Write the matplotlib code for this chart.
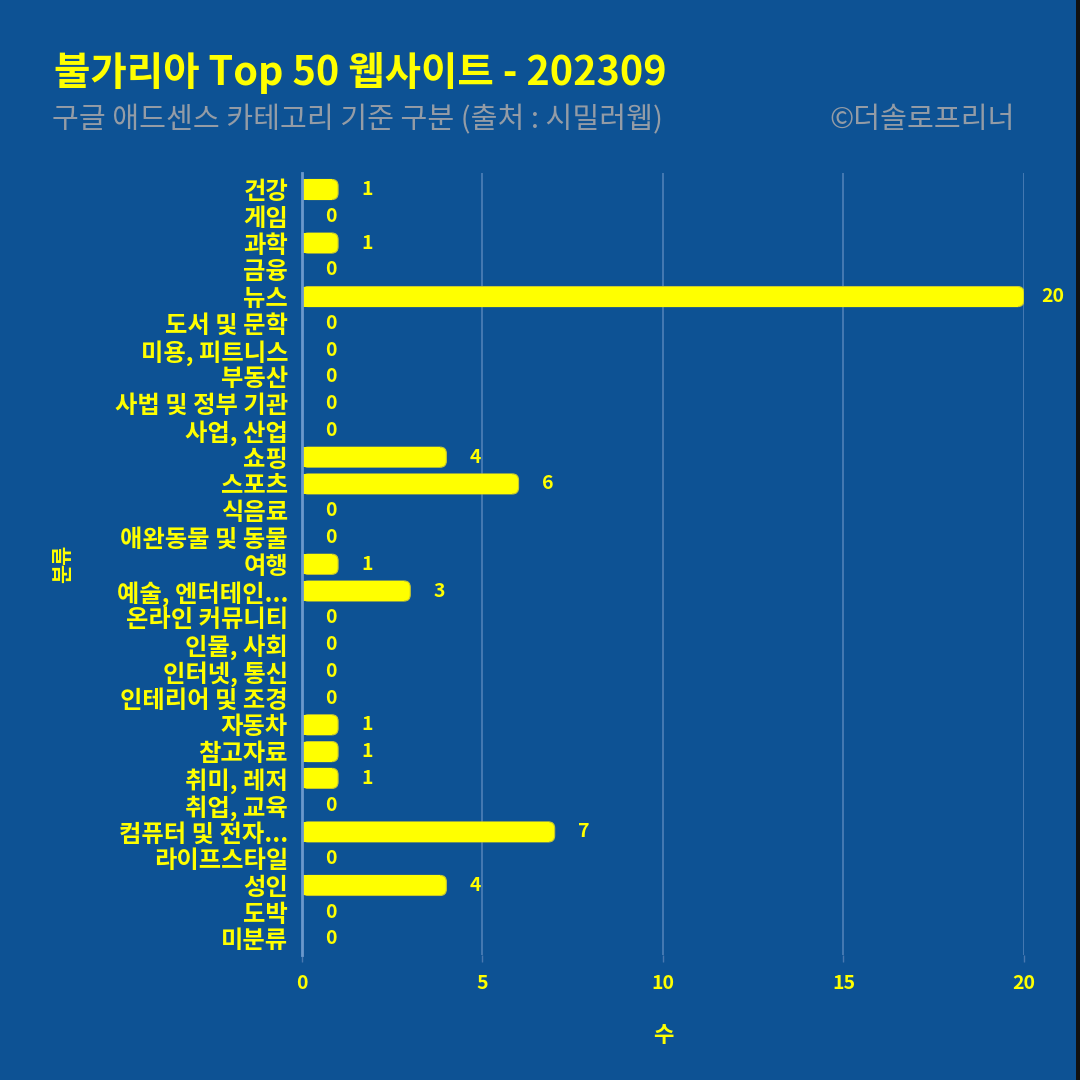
import matplotlib
matplotlib.use('Agg')
import matplotlib.pyplot as plt
from matplotlib.patches import FancyBboxPatch, Rectangle

plt.rcParams['font.family'] = ['Noto Sans CJK KR', 'DejaVu Sans']

# data
categories = [
    '건강', '게임', '과학', '금융', '뉴스', '도서 및 문학', '미용, 피트니스',
    '부동산', '사법 및 정부 기관', '사업, 산업', '쇼핑', '스포츠', '식음료',
    '애완동물 및 동물', '여행', '예술, 엔터테인...', '온라인 커뮤니티',
    '인물, 사회', '인터넷, 통신', '인테리어 및 조경', '자동차', '참고자료',
    '취미, 레저', '취업, 교육', '컴퓨터 및 전자...', '라이프스타일', '성인',
    '도박', '미분류',
]
counts = [1, 0, 1, 0, 20, 0, 0, 0, 0, 0, 4, 6, 0, 0, 1, 3, 0, 0, 0, 0,
          1, 1, 1, 0, 7, 0, 4, 0, 0]
xticks = [0, 5, 10, 15, 20]

bg = '#0d5294'
yellow = '#ffff00'

fig = plt.figure(figsize=(10.8, 10.8), dpi=100)
fig.patch.set_facecolor(bg)
ax = fig.add_axes([0.2796, 0.1157, 0.6685, 0.7237])
ax.set_facecolor(bg)

pos = list(range(len(categories)))
bars = ax.barh(pos, counts, height=0.75, color=yellow,
               edgecolor='#c8c830', linewidth=0.8, zorder=3)

# rounded right ends
r = 0.17
for b, v in zip(bars, counts):
    if v <= 0:
        continue
    x0, y0 = b.get_x(), b.get_y()
    w, h = b.get_width(), b.get_height()
    b.set_width(max(w - r, 0))
    b.set_linewidth(0)
    ax.add_patch(FancyBboxPatch((x0, y0), w, h,
                                boxstyle='round,pad=0,rounding_size=%f' % r,
                                mutation_aspect=1.4, facecolor=yellow,
                                edgecolor='#c8c830', linewidth=0.8, zorder=3))
    ax.add_patch(Rectangle((x0, y0), max(w - r, 0), h, facecolor=yellow,
                           edgecolor='none', zorder=3.5))

for p, v in zip(pos, counts):
    ax.annotate(str(v), (v, p), xytext=(21, 0), textcoords='offset points',
                ha='center', va='center', color=yellow, fontsize=14,
                fontweight='heavy', annotation_clip=False)

ax.set_xlim(0, 20)
ax.set_ylim(len(categories) - 0.4, -0.6)
ax.set_yticks(pos)
ax.set_yticklabels(categories)
ax.set_xticks(xticks)
ax.tick_params(axis='y', length=0, pad=10, labelsize=17.5, labelcolor=yellow)
ax.tick_params(axis='x', length=5, width=1, color='#4a78b0', pad=9,
               labelsize=14, labelcolor=yellow)
for lab in ax.get_yticklabels() + ax.get_xticklabels():
    lab.set_fontweight('heavy')

ax.grid(axis='x', color='#4f80b8', linewidth=1.2, zorder=0)
for s in ['top', 'right', 'bottom']:
    ax.spines[s].set_visible(False)
ax.spines['left'].set_color('#6b98cc')
ax.spines['left'].set_linewidth(2)
ax.spines['left'].set_zorder(4)

ax.set_xlabel('수', color=yellow, fontsize=16, fontweight='heavy', labelpad=22)
ax.set_ylabel('분류', color=yellow, fontsize=15, fontweight='heavy')
ax.yaxis.set_label_coords(-0.317, 0.5)

fig.text(0.05, 0.932, '불가리아 Top 50 웹사이트 - 202309', color=yellow,
         fontsize=28.5, fontweight='heavy', fontstyle='italic', va='center')
fig.text(0.048, 0.889, '구글 애드센스 카테고리 기준 구분 (출처 : 시밀러웹)',
         color='#949ca6', fontsize=21, fontstyle='italic', va='center')
fig.text(0.94, 0.889, '©더솔로프리너', color='#949ca6', fontsize=21,
         fontstyle='italic', ha='right', va='center')

fig.patches.append(Rectangle((0.9965, 0), 0.0035, 1, transform=fig.transFigure,
                             facecolor='#111111', edgecolor='none'))

fig.savefig('out.png', dpi=100, facecolor=bg)
